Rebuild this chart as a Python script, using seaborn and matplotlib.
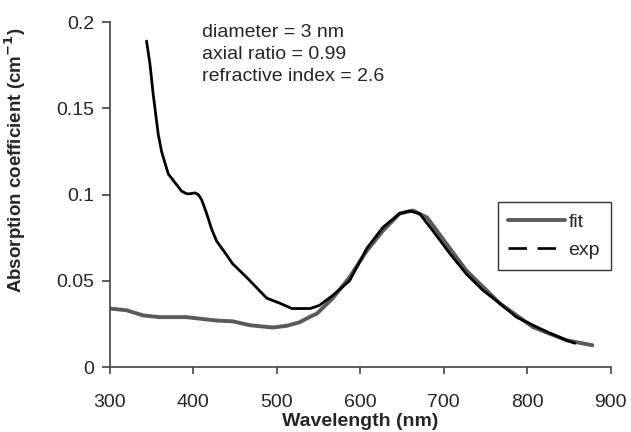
import matplotlib
matplotlib.use("Agg")
import matplotlib.pyplot as plt
import seaborn as sns
import pandas as pd
from matplotlib.lines import Line2D

exp_wl = [344, 348, 352, 358, 362, 370, 378, 386, 392, 396, 402, 406, 410, 416,
          422, 428, 437, 447, 464, 476, 488, 504, 518, 530, 540, 551, 567, 587,
          608, 627, 647, 659, 671, 687, 707, 727, 747, 767, 787, 807, 827, 847, 857]
exp_abs = [0.189, 0.176, 0.158, 0.135, 0.125, 0.112, 0.107, 0.102, 0.1005, 0.1005,
           0.101, 0.100, 0.097, 0.089, 0.080, 0.073, 0.067, 0.060, 0.052, 0.046,
           0.040, 0.037, 0.034, 0.034, 0.034, 0.0358, 0.0416, 0.050, 0.069, 0.081,
           0.089, 0.0905, 0.089, 0.079, 0.066, 0.054, 0.0445, 0.037, 0.029, 0.0243,
           0.0197, 0.0156, 0.0139]

# fitted spectrum
fit_wl = [300, 320, 340, 360, 392, 428, 447, 468, 495, 512, 527, 543, 548, 567,
          587, 608, 627, 647, 663, 680, 707, 727, 767, 807, 847, 878]
fit_abs = [0.034, 0.033, 0.030, 0.029, 0.029, 0.027, 0.0266, 0.0243, 0.023, 0.024,
           0.026, 0.030, 0.031, 0.040, 0.052, 0.0676, 0.079, 0.089, 0.0908, 0.0867,
           0.069, 0.056, 0.037, 0.0232, 0.0156, 0.0127]

params = ["diameter = 3 nm", "axial ratio = 0.99", "refractive index = 2.6"]

sns.set_style("ticks")
plt.rcParams["font.family"] = ["Liberation Sans", "DejaVu Sans"]
plt.rcParams["mathtext.default"] = "bf"

fig = plt.figure(figsize=(6.31, 4.32), dpi=100)
ax = fig.add_axes([0.174, 0.150, 0.794, 0.799])

fit_df = pd.DataFrame({"wl": fit_wl, "a": fit_abs})
exp_df = pd.DataFrame({"wl": exp_wl, "a": exp_abs})
sns.lineplot(data=fit_df, x="wl", y="a", ax=ax, color="#5a5a5a", linewidth=2.8)
sns.lineplot(data=exp_df, x="wl", y="a", ax=ax, color="black", linewidth=2.0)

ax.set_xlim(300, 900)
ax.set_ylim(0, 0.2)
ax.set_xticks([300, 400, 500, 600, 700, 800, 900])
ax.set_yticks([0, 0.05, 0.1, 0.15, 0.2])
ax.set_yticklabels(["0", "0.05", "0.1", "0.15", "0.2"])
ax.tick_params(labelsize=14, color="#444444", length=6, width=1.2, pad=5)
ax.tick_params(axis="x", length=5, pad=14)
for s in ["top", "right"]:
    ax.spines[s].set_visible(False)
for s in ["left", "bottom"]:
    ax.spines[s].set_color("#444444")
    ax.spines[s].set_linewidth(1.2)

ax.set_xlabel("Wavelength (nm)", fontsize=14, fontweight="bold", va="top")
ax.xaxis.set_label_coords(0.5, -0.133)
ax.set_ylabel("Absorption coefficient (cm$^{-1}$)", fontsize=13.5,
              fontweight="bold")
ax.yaxis.set_label_coords(-0.164, 0.6)

ax.text(0.184, 0.995, "\n".join(params), transform=ax.transAxes, fontsize=14,
        va="top", ha="left", linespacing=1.4)

handles = [Line2D([], [], color="#5a5a5a", lw=2.8),
           Line2D([], [], color="black", lw=1.9, dashes=(7, 4))]
leg = ax.legend(handles, ["fit", "exp"], loc="upper left",
                bbox_to_anchor=(0.774, 0.478), fontsize=14, frameon=True,
                fancybox=False, handlelength=2.9, handletextpad=0.2,
                borderpad=0.55, labelspacing=0.55, borderaxespad=0)
leg.get_frame().set_edgecolor("black")
leg.get_frame().set_linewidth(1.0)

fig.savefig("out.png", dpi=100)
